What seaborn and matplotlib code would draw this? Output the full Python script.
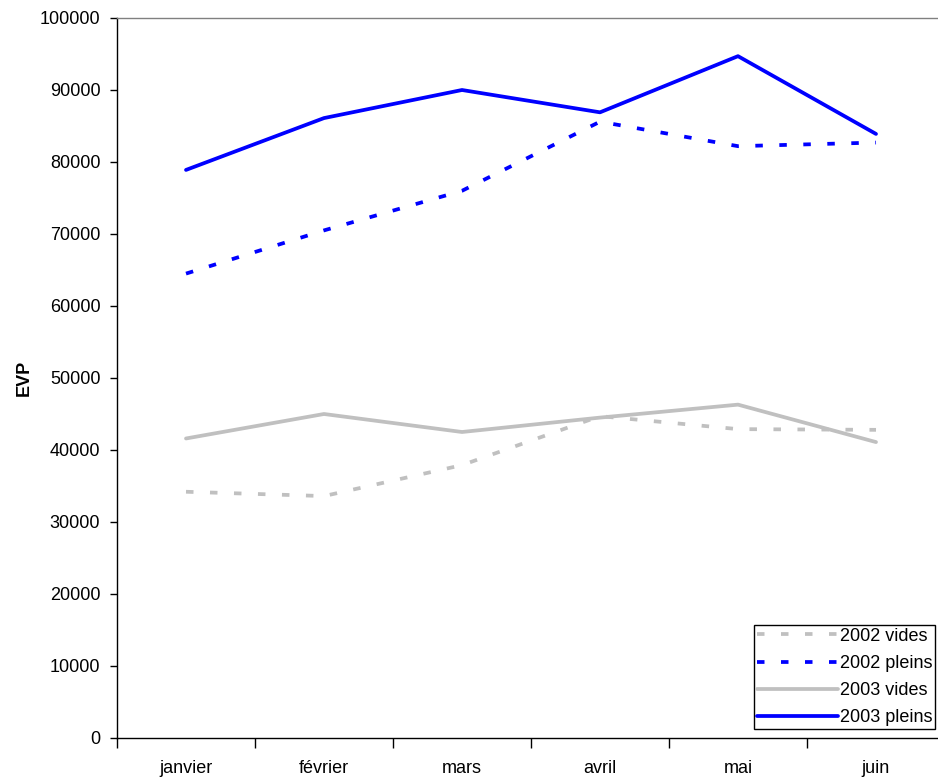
import matplotlib
matplotlib.use("Agg")
import matplotlib.pyplot as plt
import seaborn as sns
import pandas as pd
from matplotlib.ticker import FixedLocator

# Monthly volumes (EVP), first half of 2002 and 2003
mois = ["janvier", "février", "mars", "avril", "mai", "juin"]
vides_2002 = [34200, 33600, 37900, 44700, 42900, 42800]
pleins_2002 = [64500, 70500, 76000, 85600, 82200, 82700]
vides_2003 = [41600, 45000, 42500, 44500, 46300, 41100]
pleins_2003 = [78900, 86100, 90000, 86900, 94700, 83900]
series_names = ["2002 vides", "2002 pleins", "2003 vides", "2003 pleins"]
y_ticks = list(range(0, 100001, 10000))

frames = []
for name, vals in zip(series_names, [vides_2002, pleins_2002, vides_2003, pleins_2003]):
    frames.append(pd.DataFrame({"mois": mois, "EVP": vals, "serie": name}))
df = pd.concat(frames, ignore_index=True)

sns.set_theme(style="white")
plt.rcParams["font.family"] = ["Liberation Sans", "DejaVu Sans"]
plt.rcParams["text.color"] = "black"
plt.rcParams["axes.labelcolor"] = "black"
plt.rcParams["xtick.color"] = "black"
plt.rcParams["ytick.color"] = "black"

fig = plt.figure(figsize=(9.38, 7.78), dpi=100)
ax = fig.add_axes([117 / 938, 40 / 778, 828 / 938, 720 / 778])

palette = {"2002 vides": "#C0C0C0", "2002 pleins": "#0000FF",
           "2003 vides": "#C0C0C0", "2003 pleins": "#0000FF"}
dashes = {"2002 vides": (2.0, 4.4), "2002 pleins": (2.0, 4.4),
          "2003 vides": "", "2003 pleins": ""}
widths = {"2002 vides": 2.7, "2002 pleins": 2.7, "2003 vides": 2.7, "2003 pleins": 2.7}

for name in series_names:
    sub = df[df["serie"] == name]
    sns.lineplot(data=sub, x="mois", y="EVP", ax=ax, color=palette[name],
                 dashes=False, linewidth=widths[name], sort=False, label=name,
                 linestyle=(0, dashes[name]) if dashes[name] else "-")

ax.set_xlim(-0.5, 5.5)
ax.set_ylim(0, 100000)
ax.set_yticks(y_ticks)
ax.set_yticklabels([str(v) for v in y_ticks], fontsize=13)
ax.set_xticks(range(len(mois)))
ax.set_xticklabels(mois, fontsize=13)
ax.tick_params(axis="x", which="major", length=0, pad=15.5)
ax.xaxis.set_minor_locator(FixedLocator([i - 0.5 for i in range(len(mois) + 1)]))
ax.tick_params(axis="x", which="minor", bottom=True, length=7, width=1, color="black", direction="out")
ax.tick_params(axis="y", left=True, length=5, width=1, color="black", direction="out", pad=7)

ax.set_xlabel("")
ax.set_ylabel("EVP", fontsize=13, fontweight="bold", labelpad=5)

for side in ["left", "bottom"]:
    ax.spines[side].set_color("black")
    ax.spines[side].set_linewidth(1.0)
ax.spines["top"].set_color("#808080")
ax.spines["top"].set_linewidth(1.0)
ax.spines["right"].set_visible(False)

leg = ax.legend(loc="upper left", bbox_to_anchor=(754 / 938, 1 - 625 / 778),
                bbox_transform=fig.transFigure, borderaxespad=0, fontsize=13,
                frameon=True, fancybox=False, edgecolor="black", framealpha=1,
                handlelength=4.5, handletextpad=0.1, labelspacing=0.56,
                borderpad=0.15)
leg.get_frame().set_linewidth(1.0)

fig.savefig("out.png", dpi=100)
